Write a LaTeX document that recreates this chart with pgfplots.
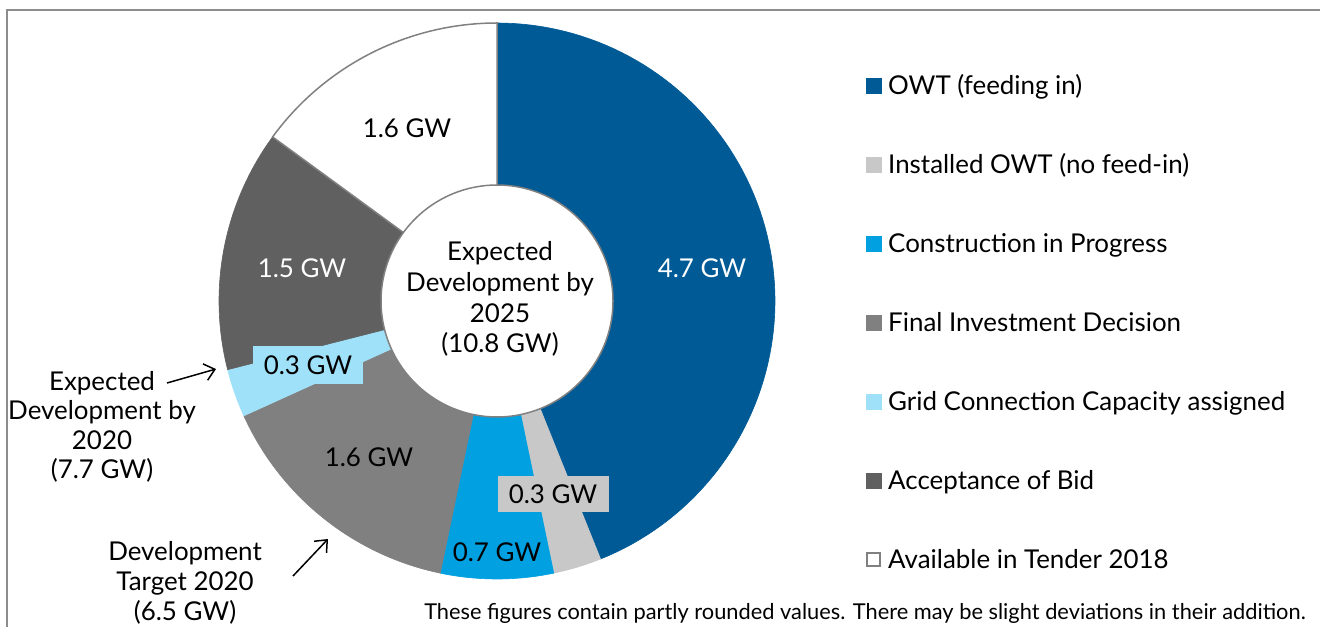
\documentclass[border=0pt]{standalone}
\usepackage{pgfplots}
\pgfplotsset{compat=1.18}
\usepackage{pgfplotstable}
\usetikzlibrary{arrows.meta}
\usepackage{fontspec}
\setmainfont{Lato}
\definecolor{owt}{RGB}{0,90,150}
\definecolor{inst}{RGB}{200,200,200}
\definecolor{constr}{RGB}{0,160,225}
\definecolor{fid}{RGB}{128,128,128}
\definecolor{gridc}{RGB}{160,225,250}
\definecolor{bid}{RGB}{96,96,96}
\definecolor{frame}{RGB}{140,140,140}

\pgfplotstableread{
key value
owt 4.7
inst 0.3
constr 0.7
fid 1.6
grid 0.3
bid 1.5
tender 1.6
}\pietable

\newcommand\lbl{\fontsize{26}{31}\selectfont}
\newcommand\wedgeplot[3]{%
  \addplot[#3, domain=#2:#1, samples=90] ({497+278*cos(x)},{326+278*sin(x)}) -- (497,326) -- cycle;}

\begin{document}
\begin{tikzpicture}
\pgfmathsetmacro\cA{0}
\pgfplotstablegetelem{0}{value}\of\pietable \pgfmathsetmacro\cB{\cA+\pgfplotsretval}
\pgfplotstablegetelem{1}{value}\of\pietable \pgfmathsetmacro\cC{\cB+\pgfplotsretval}
\pgfplotstablegetelem{2}{value}\of\pietable \pgfmathsetmacro\cD{\cC+\pgfplotsretval}
\pgfplotstablegetelem{3}{value}\of\pietable \pgfmathsetmacro\cE{\cD+\pgfplotsretval}
\pgfplotstablegetelem{4}{value}\of\pietable \pgfmathsetmacro\cF{\cE+\pgfplotsretval}
\pgfplotstablegetelem{5}{value}\of\pietable \pgfmathsetmacro\cG{\cF+\pgfplotsretval}
\pgfplotstablegetelem{6}{value}\of\pietable \pgfmathsetmacro\cH{\cG+\pgfplotsretval}
\pgfmathsetmacro\aA{90-\cA*360/\cH}
\pgfmathsetmacro\aB{90-\cB*360/\cH}
\pgfmathsetmacro\aC{90-\cC*360/\cH}
\pgfmathsetmacro\aD{90-\cD*360/\cH}
\pgfmathsetmacro\aE{90-\cE*360/\cH}
\pgfmathsetmacro\aF{90-\cF*360/\cH}
\pgfmathsetmacro\aG{90-\cG*360/\cH}
\pgfmathsetmacro\aH{90-\cH*360/\cH}
\begin{axis}[width=1320bp, height=627bp, scale only axis,
  xmin=0, xmax=1320, ymin=0, ymax=627, hide axis, clip=false]
\coordinate (bbl) at (rel axis cs:0,0);
\coordinate (btr) at (rel axis cs:1,1);
% frame
\addplot[draw=frame, line width=2bp] coordinates {(7,0) (7,617) (1320,617)};
% donut
\wedgeplot{\aA}{\aB}{fill=owt, draw=owt, line width=0.6bp}
\wedgeplot{\aB}{\aC}{fill=inst, draw=inst, line width=0.6bp}
\wedgeplot{\aC}{\aD}{fill=constr, draw=constr, line width=0.6bp}
\wedgeplot{\aD}{\aE}{fill=fid, draw=fid, line width=0.6bp}
\wedgeplot{\aE}{\aF}{fill=gridc, draw=gridc, line width=0.6bp}
\wedgeplot{\aF}{\aG}{fill=bid, draw=bid, line width=0.6bp}
\wedgeplot{\aG}{\aH}{fill=white, draw=gray, line width=1.5bp}
\addplot[fill=white, draw=gray, line width=1.5bp, domain=0:360, samples=180] ({497+116*cos(x)},{326+116*sin(x)}) -- cycle;
% slice labels
\node[font=\lbl, text=white] at (702,359) {4.7 GW};
\node[font=\lbl, fill=inst, minimum width=111bp, minimum height=36bp, inner sep=0pt] at (553,133) {0.3 GW};
\node[font=\lbl] at (497,75) {0.7 GW};
\node[font=\lbl] at (369,170) {1.6 GW};
\node[font=\lbl, fill=gridc, minimum width=110bp, minimum height=38bp, inner sep=0pt] at (308,262) {0.3 GW};
\node[font=\lbl, text=white] at (302,359) {1.5 GW};
\node[font=\lbl] at (407,499) {1.6 GW};
\node[font=\lbl, align=center] at (500,328) {Expected\\Development by\\2025\\(10.8 GW)};
% annotations
\node[font=\fontsize{26}{29.5}\selectfont, align=center] at (102,200) {Expected\\Development by\\2020\\(7.7 GW)};
\draw[-{Straight Barb[length=10bp,width=17bp]}, line width=1.5bp] (167,244) -- (216,258);
\node[font=\fontsize{26}{30}\selectfont, align=center] at (185,44) {Development\\Target 2020\\(6.5 GW)};
\draw[-{Straight Barb[length=10bp,width=17bp]}, line width=1.5bp] (293,51) -- (328,88);
% legend
\addplot[fill=owt, draw=owt] coordinates {(866,533.5) (881,533.5) (881,548.5) (866,548.5)} -- cycle;
\addplot[fill=inst, draw=inst] coordinates {(866,454.6) (881,454.6) (881,469.6) (866,469.6)} -- cycle;
\addplot[fill=constr, draw=constr] coordinates {(866,375.7) (881,375.7) (881,390.7) (866,390.7)} -- cycle;
\addplot[fill=fid, draw=fid] coordinates {(866,296.8) (881,296.8) (881,311.8) (866,311.8)} -- cycle;
\addplot[fill=gridc, draw=gridc] coordinates {(866,217.9) (881,217.9) (881,232.9) (866,232.9)} -- cycle;
\addplot[fill=bid, draw=bid] coordinates {(866,139) (881,139) (881,154) (866,154)} -- cycle;
\addplot[fill=white, draw=gray, line width=1.5bp] coordinates {(867,60.9) (880,60.9) (880,74.1) (867,74.1)} -- cycle;
\node[font=\lbl, anchor=base west, inner sep=0pt] at (888,532) {OWT (feeding in)};
\node[font=\lbl, anchor=base west, inner sep=0pt] at (888,453.1) {Installed OWT (no feed-in)};
\node[font=\lbl, anchor=base west, inner sep=0pt] at (888,374.2) {Construction in Progress};
\node[font=\lbl, anchor=base west, inner sep=0pt] at (888,295.3) {Final Investment Decision};
\node[font=\lbl, anchor=base west, inner sep=0pt] at (888,216.4) {Grid Connection Capacity assigned};
\node[font=\lbl, anchor=base west, inner sep=0pt] at (888,137.5) {Acceptance of Bid};
\node[font=\lbl, anchor=base west, inner sep=0pt] at (888,58.6) {Available in Tender 2018};
% footnote
\node[font=\fontsize{21.9}{25}\selectfont, anchor=base, inner sep=0pt] at (865,8) {These figures contain partly rounded values. There may be slight deviations in their addition.};
\end{axis}
\pgfresetboundingbox
\useasboundingbox (bbl) rectangle (btr);
\end{tikzpicture}
\end{document}
